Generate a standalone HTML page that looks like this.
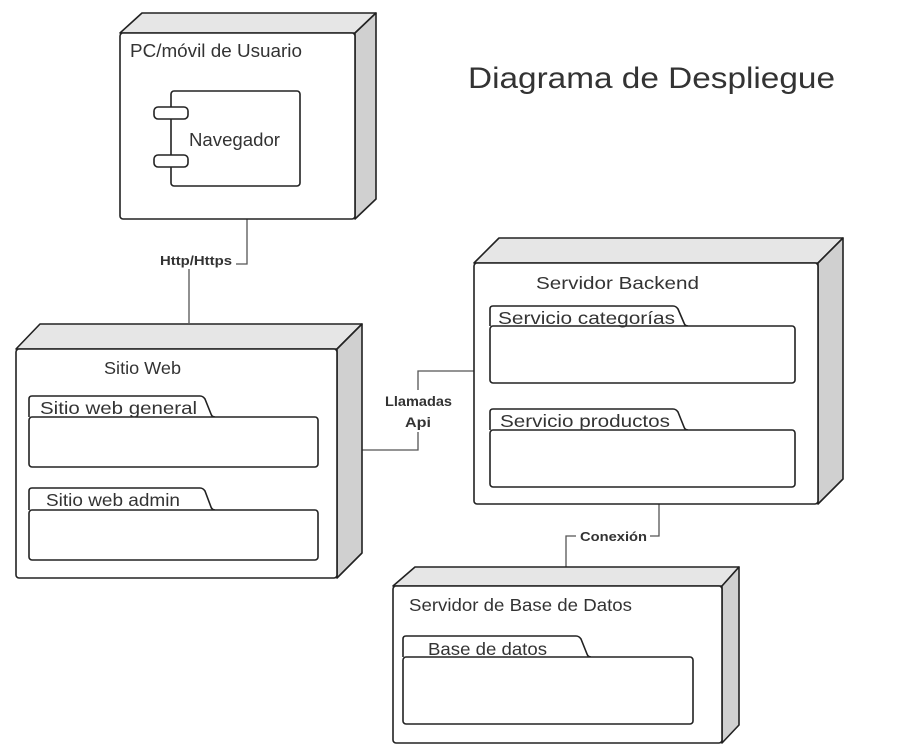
<!DOCTYPE html>
<html><head><meta charset="utf-8"><style>
body{margin:0;background:#fff}
svg{display:block}
text{font-family:"Liberation Sans",sans-serif;fill:#333}
</style></head><body>
<svg width="921" height="754" viewBox="0 0 921 754" xmlns="http://www.w3.org/2000/svg">
<g fill="none" stroke="#555" stroke-width="1.3">
<path d="M247 219 V264 H189 V323"/>
<path d="M362 450 H418 V371 H474"/>
<path d="M659 504 V536 H566 V567"/>
</g>
<rect x="156" y="251" width="80" height="18" fill="#fff"/>
<text x="160" y="265" font-size="13" font-weight="bold" textLength="72" lengthAdjust="spacingAndGlyphs" fill="#555">Http/Https</text>
<rect x="382" y="390" width="74" height="42" fill="#fff"/>
<text x="385" y="406" font-size="13.5" font-weight="bold" textLength="67" lengthAdjust="spacingAndGlyphs" fill="#555">Llamadas</text>
<text x="405" y="427" font-size="13.5" font-weight="bold" textLength="26" lengthAdjust="spacingAndGlyphs" fill="#555">Api</text>
<rect x="576" y="528" width="74" height="16" fill="#fff"/>
<text x="580" y="541" font-size="13" font-weight="bold" textLength="67" lengthAdjust="spacingAndGlyphs" fill="#555">Conexión</text>

<g stroke="#222" stroke-width="1.6" stroke-linejoin="round">
<path d="M120 33 L142 13 H376 L355 33 Z" fill="#e6e6e6"/>
<path d="M355 33 L376 13 V199 L355 219 Z" fill="#d0d0d0"/>
<rect x="120" y="33" width="235" height="186" rx="3" fill="#fff"/>
<rect x="171" y="91" width="129" height="95" rx="3" fill="#fff"/>
<rect x="154" y="107" width="34" height="12" rx="4" fill="#fff"/>
<rect x="154" y="155" width="34" height="12" rx="4" fill="#fff"/>
<path d="M16 349 L40 324 H362 L337 349 Z" fill="#e6e6e6"/>
<path d="M337 349 L362 324 V553 L337 578 Z" fill="#d0d0d0"/>
<rect x="16" y="349" width="321" height="229" rx="3" fill="#fff"/>
<path d="M29 417 V399 Q29 396 32 396 H200 Q203 396 205 399 L211 414 Q212 417 215 417" fill="#fff"/>
<rect x="29" y="417" width="289" height="50" rx="3" fill="#fff"/>
<path d="M29 510 V491 Q29 488 32 488 H200 Q203 488 205 491 L211 507 Q212 510 215 510" fill="#fff"/>
<rect x="29" y="510" width="289" height="50" rx="3" fill="#fff"/>
<path d="M474 263 L499 238 H843 L818 263 Z" fill="#e6e6e6"/>
<path d="M818 263 L843 238 V479 L818 504 Z" fill="#d0d0d0"/>
<rect x="474" y="263" width="344" height="241" rx="3" fill="#fff"/>
<path d="M490 326 V309 Q490 306 493 306 H673 Q676 306 678 309 L684 323 Q685 326 688 326" fill="#fff"/>
<rect x="490" y="326" width="305" height="57" rx="3" fill="#fff"/>
<path d="M490 430 V412 Q490 409 493 409 H673 Q676 409 678 412 L684 427 Q685 430 688 430" fill="#fff"/>
<rect x="490" y="430" width="305" height="57" rx="3" fill="#fff"/>
<path d="M393 586 L415 567 H739 L722 586 Z" fill="#e6e6e6"/>
<path d="M722 586 L739 567 V725 L722 743 Z" fill="#d0d0d0"/>
<rect x="393" y="586" width="329" height="157" rx="3" fill="#fff"/>
<path d="M403 657 V639 Q403 636 406 636 H576 Q579 636 581 639 L587 654 Q588 657 591 657" fill="#fff"/>
<rect x="403" y="657" width="290" height="67" rx="3" fill="#fff"/>
</g>

<text x="130" y="57" font-size="18" textLength="172" lengthAdjust="spacingAndGlyphs">PC/móvil de Usuario</text>
<text x="189" y="146" font-size="18" textLength="91" lengthAdjust="spacingAndGlyphs">Navegador</text>
<text x="468" y="88" font-size="30" fill="#222" textLength="367" lengthAdjust="spacingAndGlyphs">Diagrama de Despliegue</text>
<text x="104" y="374" font-size="17.5" textLength="77" lengthAdjust="spacingAndGlyphs">Sitio Web</text>
<text x="40" y="414" font-size="17.5" textLength="157" lengthAdjust="spacingAndGlyphs">Sitio web general</text>
<text x="46" y="506" font-size="17.5" textLength="134" lengthAdjust="spacingAndGlyphs">Sitio web admin</text>
<text x="536" y="289" font-size="17.5" textLength="163" lengthAdjust="spacingAndGlyphs">Servidor Backend</text>
<text x="498" y="324" font-size="17.5" textLength="177" lengthAdjust="spacingAndGlyphs">Servicio categorías</text>
<text x="500" y="427" font-size="17.5" textLength="170" lengthAdjust="spacingAndGlyphs">Servicio productos</text>
<text x="409" y="611" font-size="17.5" textLength="223" lengthAdjust="spacingAndGlyphs">Servidor de Base de Datos</text>
<text x="428" y="655" font-size="17.5" textLength="119" lengthAdjust="spacingAndGlyphs">Base de datos</text>
</svg>
</body></html>
